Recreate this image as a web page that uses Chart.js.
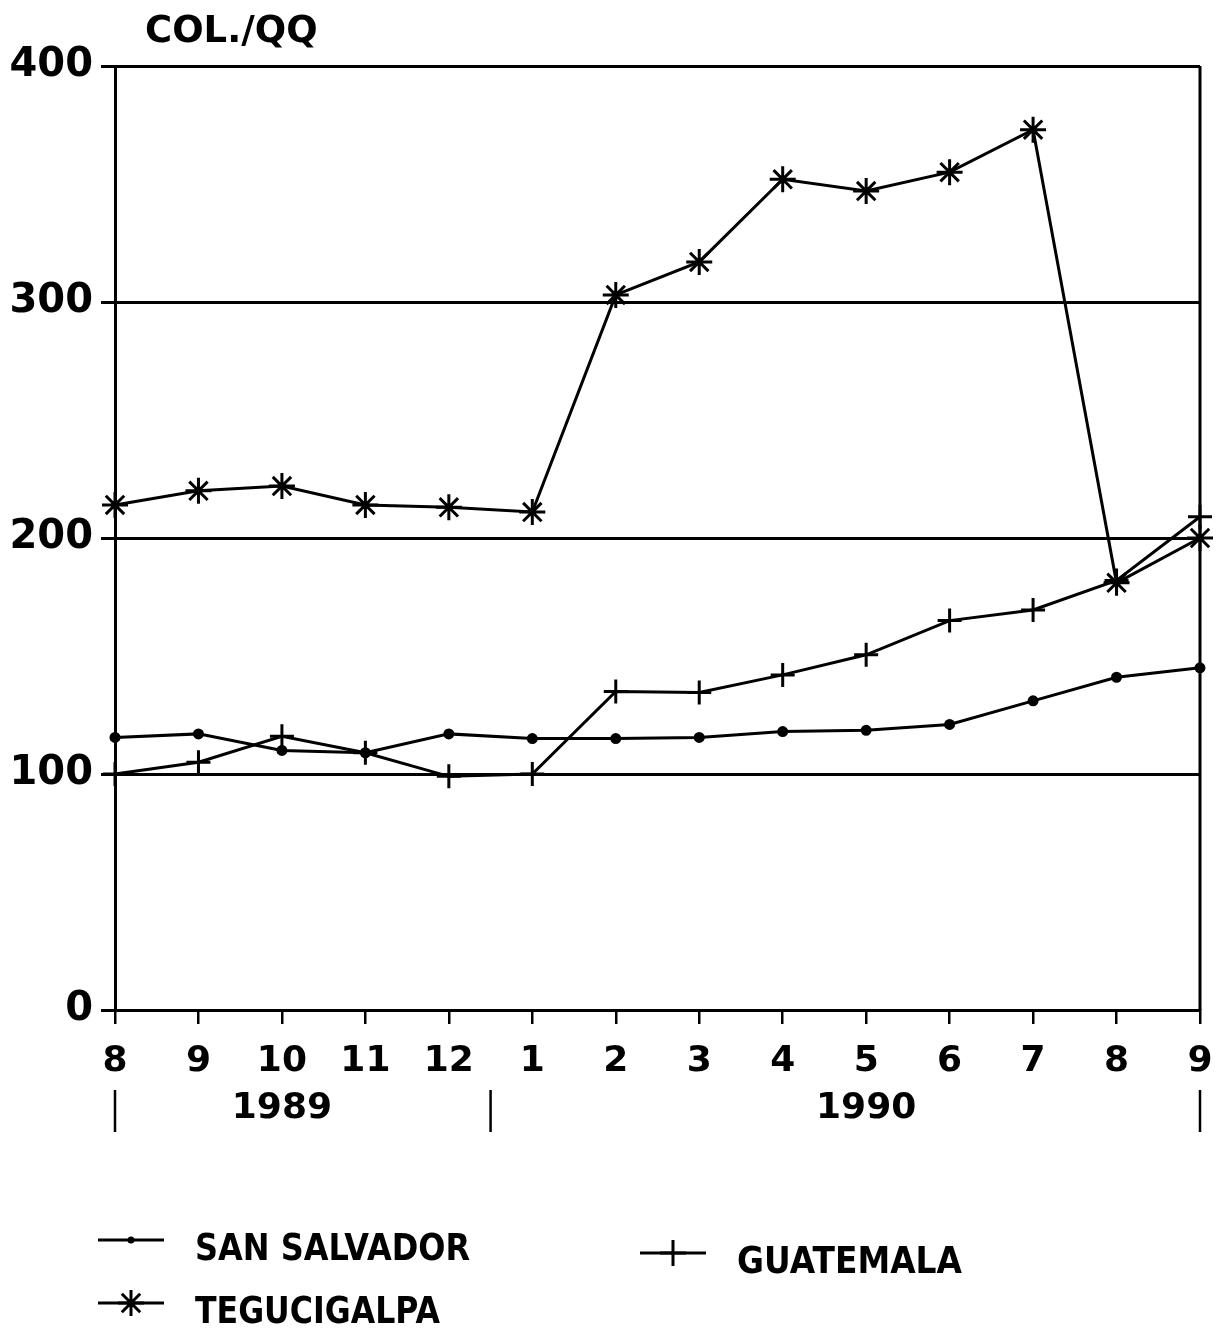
<!DOCTYPE html>
<html>
<head>
<meta charset="utf-8">
<script src="https://cdn.jsdelivr.net/npm/chart.js@4/dist/chart.umd.min.js"></script>
<style>
  html, body { margin: 0; padding: 0; background: #fff; }
  #wrap { width: 1230px; height: 1328px; }
</style>
</head>
<body>
<div id="wrap"><canvas id="chart" width="1230" height="1328"></canvas></div>
<script>
const months = ["8", "9", "10", "11", "12", "1", "2", "3", "4", "5", "6", "7", "8", "9"];
const years = ["", "", "1989", "", "", "", "", "", "", "1990", "", "", "", ""];
const yearBreaks = [0, 4.5, 13];

const sanSalvador = [115.5, 117, 110, 109, 117, 115, 115, 115.5, 118, 118.5, 121, 131, 141, 145];
const guatemala = [100, 105, 116, 109, 99, 100, 135, 134.5, 142, 150.5, 165, 169.5, 182, 209];
const tegucigalpa = [214, 220, 222, 214, 213, 211, 303, 317, 352, 347, 355, 373, 181, 200];

const yTicks = [0, 100, 200, 300, 400];
const unitLabel = "COL./QQ";

const FONT = '"DejaVu Sans", "Liberation Sans", sans-serif';
const INK = "#000";

const series = [
  { label: "SAN SALVADOR", data: sanSalvador, pointStyle: "circle", radius: 4 },
  { label: "GUATEMALA", data: guatemala, pointStyle: "cross", radius: 12 },
  { label: "TEGUCIGALPA", data: tegucigalpa, pointStyle: "star", radius: 13 }
];

// where each legend entry sits (sample line start, baseline row) and its text width
const legendSlots = [
  { x: 98, y: 1240, w: 275 },
  { x: 640, y: 1253, w: 225 },
  { x: 98, y: 1303, w: 245 }
];

const drawMarker = (ctx, style, r, x, y) => {
  ctx.save();
  ctx.strokeStyle = INK;
  ctx.fillStyle = INK;
  ctx.lineWidth = 3;
  ctx.beginPath();
  if (style === "circle") {
    ctx.arc(x, y, r, 0, Math.PI * 2);
    ctx.fill();
  } else {
    ctx.moveTo(x - r, y); ctx.lineTo(x + r, y);
    ctx.moveTo(x, y - r); ctx.lineTo(x, y + r);
    if (style === "star") {
      const d = r * Math.SQRT1_2;
      ctx.moveTo(x - d, y - d); ctx.lineTo(x + d, y + d);
      ctx.moveTo(x - d, y + d); ctx.lineTo(x + d, y - d);
    }
    ctx.stroke();
  }
  ctx.restore();
};

const decorations = {
  id: "decorations",
  afterDraw(chart) {
    const { ctx, chartArea: a, scales } = chart;
    ctx.save();

    // right edge of the frame
    ctx.strokeStyle = INK;
    ctx.lineWidth = 3;
    ctx.beginPath();
    ctx.moveTo(a.right, a.top);
    ctx.lineTo(a.right, a.bottom);
    ctx.stroke();

    // unit label over the axis
    ctx.fillStyle = INK;
    ctx.font = `bold 37px ${FONT}`;
    ctx.textBaseline = "middle";
    ctx.textAlign = "left";
    ctx.fillText(unitLabel, a.left + 30, 32, 185);

    // year separators under the month labels
    ctx.lineWidth = 2.5;
    yearBreaks.forEach((b) => {
      const lo = scales.x.getPixelForValue(Math.floor(b));
      const hi = scales.x.getPixelForValue(Math.ceil(b));
      const x = (lo + hi) / 2;
      ctx.beginPath();
      ctx.moveTo(x, a.bottom + 80);
      ctx.lineTo(x, a.bottom + 122);
      ctx.stroke();
    });

    // legend
    ctx.font = `bold 37px ${FONT}`;
    series.forEach((s, i) => {
      const slot = legendSlots[i];
      ctx.lineWidth = 3;
      ctx.beginPath();
      ctx.moveTo(slot.x, slot.y);
      ctx.lineTo(slot.x + 66, slot.y);
      ctx.stroke();
      drawMarker(ctx, s.pointStyle, s.pointStyle === "circle" ? 3.5 : 13, slot.x + 33, slot.y);
      ctx.fillText(s.label, slot.x + 97, slot.y + 10, slot.w);
    });

    ctx.restore();
  }
};

new Chart(document.getElementById("chart"), {
  type: "line",
  data: {
    labels: months,
    datasets: series.map((s) => ({
      label: s.label,
      data: s.data,
      borderColor: INK,
      backgroundColor: INK,
      borderWidth: 3,
      tension: 0,
      pointStyle: s.pointStyle,
      pointRadius: s.radius,
      pointBorderWidth: 3,
      pointBorderColor: INK,
      pointBackgroundColor: INK
    }))
  },
  options: {
    responsive: false,
    animation: false,
    layout: { padding: { top: 66, right: 30, left: 0, bottom: 0 } },
    plugins: {
      legend: { display: false },
      tooltip: { enabled: false },
      title: { display: false }
    },
    scales: {
      x: {
        type: "category",
        offset: false,
        afterFit: (s) => { s.height = 318; },
        grid: { drawOnChartArea: false, drawTicks: true, tickLength: 14, color: INK, lineWidth: 2.5 },
        border: { display: true, color: INK, width: 3 },
        ticks: {
          autoSkip: false,
          maxRotation: 0,
          padding: 14,
          color: INK,
          font: { family: FONT, size: 36, weight: "bold", lineHeight: 1.3 },
          callback: (v, i) => (years[i] ? [months[i], years[i]] : months[i])
        }
      },
      y: {
        min: yTicks[0],
        max: yTicks[yTicks.length - 1],
        afterFit: (s) => { s.width = 115; },
        afterBuildTicks: (s) => { s.ticks = yTicks.map((v) => ({ value: v })); },
        grid: { drawOnChartArea: true, drawTicks: true, tickLength: 14, color: INK, lineWidth: 3 },
        border: { display: true, color: INK, width: 3 },
        ticks: {
          padding: 8,
          color: INK,
          font: { family: FONT, size: 40, weight: "bold" }
        }
      }
    }
  },
  plugins: [decorations]
});
</script>
</body>
</html>
